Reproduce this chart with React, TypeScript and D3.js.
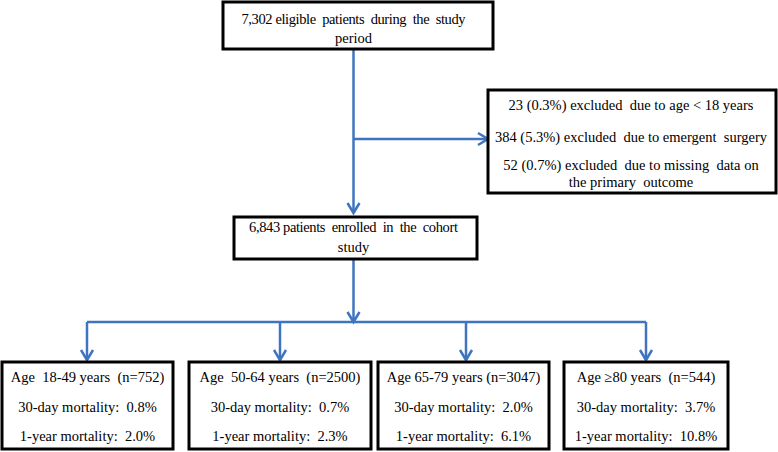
import React from "react";
import * as d3 from "d3";

const topLines = ["7,302 eligible  patients  during  the  study", "period"];
const exclusionLines = [
  "23 (0.3%) excluded  due to age < 18 years",
  "384 (5.3%) excluded  due to emergent  surgery",
  "52 (0.7%) excluded  due to missing  data on",
  "the primary  outcome",
];
const cohortLines = ["6,843 patients  enrolled  in  the  cohort", "study"];
const groupLabels = ["Age  18-49 years  (n=752)", "Age  50-64 years  (n=2500)", "Age 65-79 years (n=3047)", "Age \u226580 years  (n=544)"];
const mortality30 = ["0.8%", "0.7%", "2.0%", "3.7%"];
const mortality1y = ["2.0%", "2.3%", "6.1%", "10.8%"];

const BLUE = "#3f74c0";

const nb = (s: string) => s.replace(/  /g, " \u00a0");

export default function App() {
  const W = 778, H = 452;
  const line = d3.line<[number, number]>();
  const spineX = 353.5;

  // layout
  const topBox = { x: 223, y: 2, w: 270, h: 47 };
  const exBox = { x: 488, y: 90, w: 288, h: 103 };
  const midBox = { x: 234, y: 217, w: 243, h: 42 };
  const boxX = [2, 189, 378, 564];
  const boxW = [171, 182, 171, 164];
  const dropX = [87, 280, 466, 646];
  const busY = 322;
  const groupTop = 362, groupBottom = 449;
  const rowY = d3.scaleLinear().domain([0, 2]).range([382, 441]);

  const chevron = (x: number, y: number, dir: "down" | "right") =>
    dir === "down"
      ? line([[x - 6, y - 10], [x, y], [x + 6, y - 10]])
      : line([[x - 10, y - 6], [x, y], [x - 10, y + 6]]);

  const txt = (s: string, x: number, y: number, key: string, tl?: number) => (
    <text key={key} x={x} y={y} textAnchor="middle"
      style={{ fontFamily: "'Liberation Serif', 'Tinos', serif", fontSize: "14.5px" }}
      {...(tl ? { textLength: tl, lengthAdjust: "spacing" } : {})}>{nb(s)}</text>
  );

  const rect = (b: { x: number; y: number; w: number; h: number }, key: string) => (
    <rect key={key} x={b.x} y={b.y} width={b.w} height={b.h} fill="#fff" stroke="#000" strokeWidth={3} />
  );

  return (
    <svg width={W} height={H} style={{ position: "absolute", left: 0, top: 0, background: "#fff", fontFamily: "'Liberation Serif', serif" }}>
      <rect x={0} y={0} width={W} height={H} fill="#fff" />
      <g stroke={BLUE} strokeWidth={2.5} fill="none">
        <path d={line([[spineX, topBox.y + topBox.h], [spineX, midBox.y - 4]]) ?? ""} />
        <path d={chevron(spineX, midBox.y - 4, "down") ?? ""} />
        <path d={line([[spineX, 139], [exBox.x, 139]]) ?? ""} />
        <path d={chevron(exBox.x, 139, "right") ?? ""} />
        <path d={line([[spineX, midBox.y + midBox.h], [spineX, busY]]) ?? ""} />
        <path d={chevron(spineX, busY, "down") ?? ""} />
        <path d={line([[dropX[0], busY], [dropX[3], busY]]) ?? ""} />
        {dropX.map((x, i) => (
          <g key={i}>
            <path d={line([[x, busY], [x, groupTop - 2]]) ?? ""} />
            <path d={chevron(x, groupTop - 2, "down") ?? ""} />
          </g>
        ))}
      </g>

      {rect(topBox, "tb")}
      {txt(topLines[0], spineX, 24, "t0", 224)}
      {txt(topLines[1], spineX, 43, "t1")}

      {rect(exBox, "eb")}
      {exclusionLines.map((s, i) => txt(s, exBox.x + exBox.w / 2 - 1, [110, 142, 170, 187][i], "e" + i))}

      {rect(midBox, "mb")}
      {txt(cohortLines[0], spineX, 232, "m0", 209)}
      {txt(cohortLines[1], spineX, 252, "m1")}

      {groupLabels.map((g, i) => (
        <g key={"g" + i}>
          <rect x={boxX[i]} y={groupTop} width={boxW[i]} height={groupBottom - groupTop} fill="#fff" stroke="#000" strokeWidth={3} />
          {txt(g, boxX[i] + boxW[i] / 2, rowY(0), "ga" + i)}
          {txt(`30-day mortality:  ${mortality30[i]}`, boxX[i] + boxW[i] / 2, rowY(1), "gb" + i)}
          {txt(`1-year mortality:  ${mortality1y[i]}`, boxX[i] + boxW[i] / 2, rowY(2), "gc" + i)}
        </g>
      ))}
    </svg>
  );
}
